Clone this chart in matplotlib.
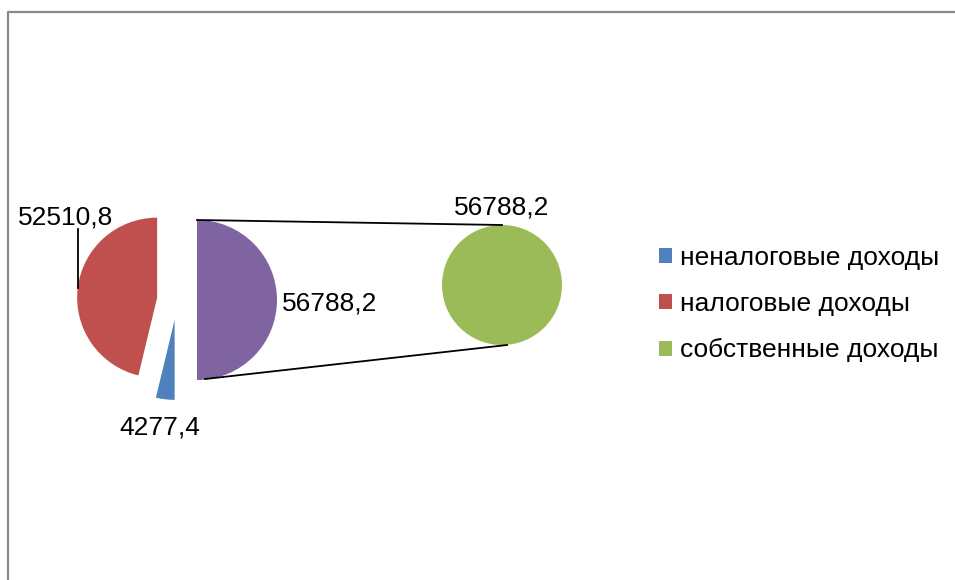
import matplotlib.pyplot as plt
from matplotlib.patches import Patch

plt.rcParams['font.family'] = ['Liberation Sans', 'DejaVu Sans']

categories = ['неналоговые доходы', 'налоговые доходы', 'собственные доходы']
values = [4277.4, 52510.8]          # неналоговые, налоговые
own_total = 56788.2                 # собственные доходы (второй круг)
colors = ['#4F81BD', '#C0504D', '#9BBB59']
other_color = '#8064A2'


def fmt(v):
	return f'{v:.1f}'.replace('.', ',')


W, H = 955, 580
fig = plt.figure(figsize=(W / 100, H / 100), dpi=100)
ax = fig.add_axes([0, 0, 1, 1])

# first pie: "other" (= second pie) half, then tax, then non-tax
r1 = 80
c1 = (177, H - 300)
main_vals = [own_total, values[1], values[0]]
main_cols = [other_color, colors[1], colors[0]]
wedges, _ = ax.pie(main_vals, colors=main_cols, startangle=-90, radius=r1,
	center=c1, explode=[0.25 * r1] * 3, wedgeprops=dict(linewidth=0))

# second pie
r2 = 60
c2 = (502, H - 285)
ax.pie([own_total], colors=[colors[2]], radius=r2, center=c2,
	wedgeprops=dict(linewidth=0))

# connector lines from purple slice to second pie
pc = wedges[0].center
ax.plot([pc[0], c2[0]], [pc[1] + r1, c2[1] + r2], color='black', lw=1.3)
ax.plot([pc[0] + 8, c2[0] + 5], [pc[1] - r1 + 1, c2[1] - r2], color='black', lw=1.3)

# data labels
fs = 19
ax.text(18, H - 217, fmt(values[1]), fontsize=fs, ha='left', va='center')
ax.plot([78, 78], [H - 229, H - 288], color='black', lw=1.3)
ax.text(160, H - 428, fmt(values[0]), fontsize=fs, ha='center', va='center')
ax.text(282, H - 303, fmt(own_total), fontsize=fs, ha='left', va='center')
ax.text(c2[0], H - 207, fmt(own_total), fontsize=fs, ha='center', va='center')

# legend
handles = [Patch(facecolor=c, edgecolor='none') for c in colors]
ax.legend(handles, categories, loc='center left', bbox_to_anchor=(659 / W, 1 - 304 / H),
	frameon=False, fontsize=fs, handlelength=0.5, handleheight=0.5,
	handletextpad=0.3, labelspacing=0.85, borderpad=0, borderaxespad=0)

# chart area border (partly cropped)
ax.plot([7.5, 7.5, W + 5], [-5, H - 12, H - 12], color='#898989', lw=1.6, clip_on=False)

ax.set_xlim(0, W)
ax.set_ylim(0, H)
ax.set_aspect('equal')
ax.axis('off')

fig.savefig('out.png', dpi=100)
